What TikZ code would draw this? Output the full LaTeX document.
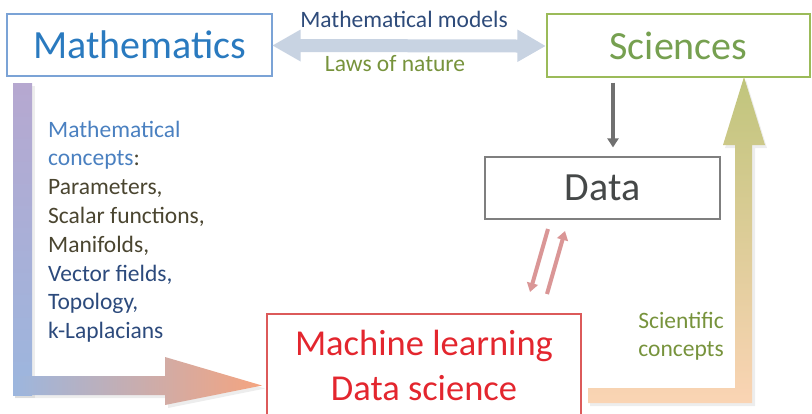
\documentclass[tikz,border=0pt]{standalone}
\usepackage{fontspec}
\setmainfont{Carlito}
\usetikzlibrary{arrows.meta,calc}

\definecolor{mathblue}{HTML}{2A7ABF}
\definecolor{mathborder}{HTML}{7BA3D6}
\definecolor{scitext}{HTML}{76A050}
\definecolor{sciborder}{HTML}{9BBB59}
\definecolor{datatext}{HTML}{454848}
\definecolor{databorder}{HTML}{7F7F7F}
\definecolor{feedgray}{HTML}{707070}
\definecolor{mltext}{HTML}{E3262E}
\definecolor{mlborder}{HTML}{DC5A5A}
\definecolor{modelnavy}{HTML}{2E4B7A}
\definecolor{lawgreen}{HTML}{77933C}
\definecolor{conceptblue}{HTML}{4A80C0}
\definecolor{darkolive}{HTML}{4A4530}
\definecolor{listnavy}{HTML}{2C4A7C}
\definecolor{linkblue}{HTML}{C8D3E2}
\definecolor{pinkarrow}{HTML}{DA9696}
\definecolor{lavender}{HTML}{B6A8D0}
\definecolor{softblue}{HTML}{9CB6DE}
\definecolor{rosy}{HTML}{D6AAB4}
\definecolor{salmon}{HTML}{F5A47F}
\definecolor{olivetop}{HTML}{C0C57C}
\definecolor{tan}{HTML}{E6CFA0}
\definecolor{peach}{HTML}{FAD4B4}

\tikzset{
  bigbox/.style={draw, line width=1.2pt, inner sep=0pt, font=\fontsize{40}{48}\selectfont},
  label/.style={inner sep=0pt, font=\fontsize{23.5}{28.8}\selectfont},
  thinarrow/.style={line width=4pt, -{Triangle[length=9pt,width=11pt]}},
  shadowfill/.style={fill=black!40, opacity=0.18}
}

\begin{document}
\begin{tikzpicture}[x=1pt,y=-1pt]
\useasboundingbox (0,0) rectangle (812,413);

% boxes
\node[bigbox, draw=mathborder, text=mathblue, minimum width=265pt, minimum height=62pt] (math) at (139.5,45) {Mathematics};
\node[bigbox, draw=sciborder, text=scitext, minimum width=263pt, minimum height=63pt] (sci) at (678.5,45.5) {Sciences};
\node[bigbox, draw=databorder, text=datatext, minimum width=235pt, minimum height=62pt] (data) at (602.5,188) {Data};
\node[bigbox, draw=mlborder, text=mltext, align=center, minimum width=314pt, minimum height=102pt,
      font=\fontsize{36.5}{45}\selectfont] (ml) at (424,365) {Machine learning\\Data science};

% double arrow between Mathematics and Sciences
\fill[linkblue] ($(math.east)+(0,0.5)$) -- ++(28,-16) -- ++(0,9.5) -- ($(sci.west)+(-29,-6)$) -- ++(0,-10)
  -- ($(sci.west)+(-1,0.5)$) -- ++(-28,16) -- ++(0,-9.5) -- ($(math.east)+(28,7)$) -- ++(0,9.5) -- cycle;
\node[label, text=modelnavy, anchor=base] (models) at (404,27) {Mathematical models};
\node[label, text=lawgreen, anchor=base] (laws) at (395,71) {Laws of nature};

% Sciences -> Data
\coordinate (gx) at (613,0);
\draw[thinarrow, feedgray] ([yshift=-5pt]sci.south -| gx) -- ([yshift=9pt]data.north -| gx);

% Data <-> Machine learning
\coordinate (dnA) at (548,229);
\coordinate (dnB) at (530,292);
\coordinate (upA) at (547,294);
\coordinate (upB) at (565,231);
\draw[thinarrow, pinkarrow] (dnA) -- (dnB);
\draw[thinarrow, pinkarrow] (upA) -- (upB);

% L-shaped arrow: Mathematics -> Machine learning
\fill[shadowfill] (15,86) rectangle (35,398);
\fill[shadowfill] (15,379) -- (168,379) -- (168,360) -- (265,388.5) -- (168,408) -- (168,398) -- (15,398) -- cycle;
\shade[top color=lavender, bottom color=softblue] (13,83) rectangle (32,395);
\shade[left color=softblue, middle color=rosy, right color=salmon]
  (13,376) -- (165,376) -- (165,357) -- (262,385.5) -- (165,405) -- (165,395) -- (13,395) -- cycle;

% L-shaped arrow: Machine learning -> Sciences
\fill[shadowfill] (590,391) -- (737,391) -- (737,148) -- (725,148) -- (746,80) -- (767,148) -- (755,148) -- (755,406) -- (590,406) -- cycle;
\shade[top color=olivetop, middle color=tan, bottom color=peach]
  (588,388) -- (735,388) -- (735,145) -- (723,145) -- (744,77) -- (765,145) -- (752,145) -- (752,403) -- (588,403) -- cycle;

% concept lists
\node[label, anchor=base west, text=conceptblue] (c1) at (48,137) {Mathematical};
\node[label, anchor=base west, text=conceptblue] (c2) at (48,165.8) {concepts\textcolor{darkolive}{:}};
\node[label, anchor=base west, text=darkolive] (c3) at (48,194.6) {Parameters,};
\node[label, anchor=base west, text=darkolive] (c4) at (48,223.4) {Scalar functions,};
\node[label, anchor=base west, text=darkolive] (c5) at (48,252.2) {Manifolds,};
\node[label, anchor=base west, text=listnavy] (c6) at (48,281) {Vector fields,};
\node[label, anchor=base west, text=listnavy] (c7) at (48,309.8) {Topology,};
\node[label, anchor=base west, text=listnavy] (c8) at (48,338.6) {k-Laplacians};

\node[label, anchor=base east, text=lawgreen] (s1) at (724,328) {Scientific};
\node[label, anchor=base east, text=lawgreen] (s2) at (724,356) {concepts};
\end{tikzpicture}
\end{document}
